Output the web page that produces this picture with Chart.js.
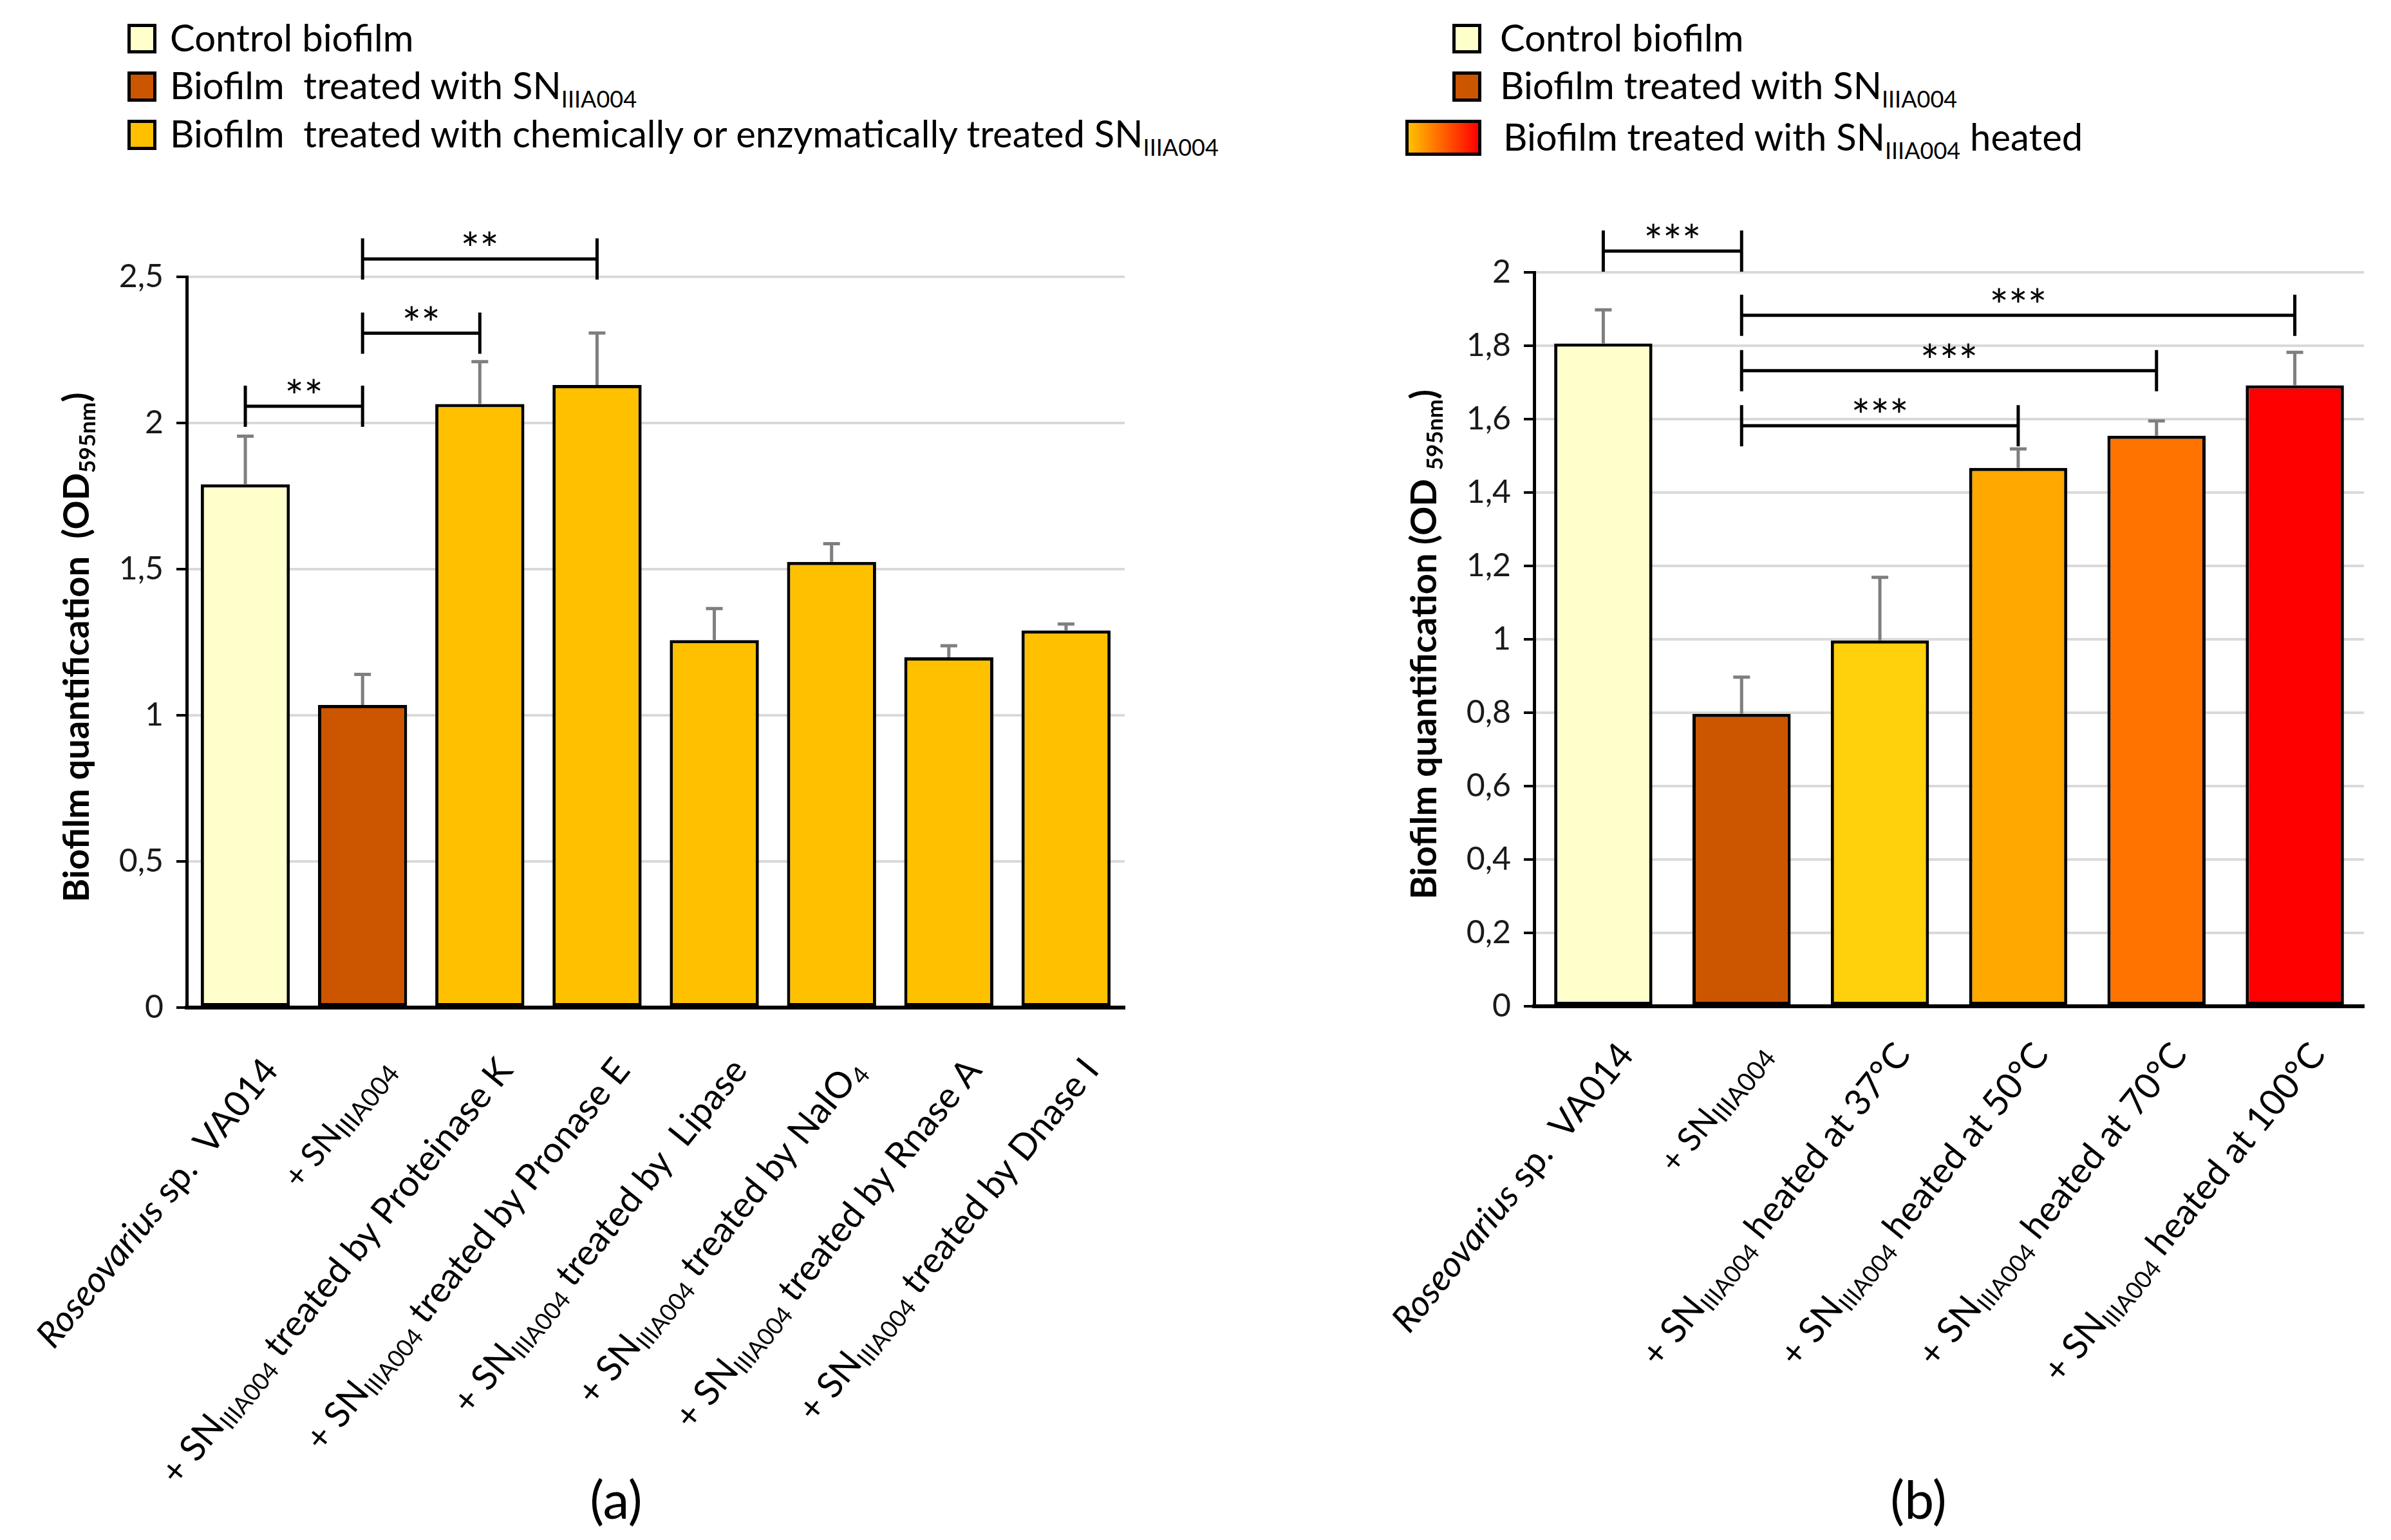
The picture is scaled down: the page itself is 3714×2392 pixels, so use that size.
<!DOCTYPE html>
<html>
<head>
<meta charset="utf-8">
<script src="https://cdn.jsdelivr.net/npm/chart.js@4.4.1/dist/chart.umd.min.js"></script>
<style>
  html, body { margin: 0; padding: 0; background: #fff; }
  body { width: 3714px; height: 2392px; position: relative; overflow: hidden; font-family: Lato, "Open Sans", sans-serif; color: #000; }
  canvas { position: absolute; top: 0; }
  #chartA { left: 0; }
  #chartB { left: 1860px; }
  .box { position: absolute; border: 5px solid #000; box-sizing: border-box; }
  .lg { position: absolute; font-size: 58px; line-height: 58px; white-space: pre; }
  .lg sub { font-size: 36px; vertical-align: -13px; line-height: 0; }
  .panel { position: absolute; font-size: 82px; line-height: 82px; width: 200px; text-align: center; top: 2286px; }
</style>
</head>
<body>

<!-- legend (a) -->
<div class="box" style="left:198px;top:37px;width:45px;height:46px;background:#FFFFCC"></div>
<div class="lg" style="left:264px;top:29px">Control biofilm</div>
<div class="box" style="left:198px;top:111px;width:45px;height:47px;background:#CC5500"></div>
<div class="lg" style="left:264px;top:103px">Biofilm  treated with SN<sub>IIIA004</sub></div>
<div class="box" style="left:198px;top:186px;width:45px;height:47px;background:#FFC000"></div>
<div class="lg" style="left:264px;top:178px">Biofilm  treated with chemically or enzymatically treated SN<sub>IIIA004</sub></div>

<!-- legend (b) -->
<div class="box" style="left:2256px;top:37px;width:45px;height:46px;background:#FFFFCC"></div>
<div class="lg" style="left:2330px;top:29px">Control biofilm</div>
<div class="box" style="left:2256px;top:111px;width:45px;height:47px;background:#CC5500"></div>
<div class="lg" style="left:2330px;top:103px">Biofilm treated with SN<sub>IIIA004</sub></div>
<div class="box" style="left:2183px;top:186px;width:118px;height:56px;background:linear-gradient(to right,#FFC000,#FF0000)"></div>
<div class="lg" style="left:2335px;top:183px">Biofilm treated with SN<sub>IIIA004</sub> heated</div>

<canvas id="chartA" width="1860" height="2392" style="width:1860px;height:2392px"></canvas>
<canvas id="chartB" width="1854" height="2392" style="width:1854px;height:2392px"></canvas>

<div class="panel" style="left:857px">(a)</div>
<div class="panel" style="left:2880px">(b)</div>

<script>
// ---- panel (a) data ----
var labelsA = ['*Roseovarius* sp.  VA014', '+ SN_{IIIA004}', '+ SN_{IIIA004} treated by Proteinase K', '+ SN_{IIIA004} treated by Pronase E',
               '+ SN_{IIIA004} treated by  Lipase', '+ SN_{IIIA004} treated by NaIO_{4}', '+ SN_{IIIA004} treated by Rnase A', '+ SN_{IIIA004} treated by Dnase I'];
var valuesA = [1.79, 1.035, 2.065, 2.13, 1.257, 1.525, 1.198, 1.29];
var errorsA = [0.165, 0.105, 0.145, 0.178, 0.108, 0.062, 0.04, 0.022];
var colorsA = ['#FFFFCC', '#CC5500', '#FFC000', '#FFC000', '#FFC000', '#FFC000', '#FFC000', '#FFC000'];
// [from bar, to bar, height, label]
var bracketsA = [[0, 1, 2.057, '**'], [1, 2, 2.307, '**'], [1, 3, 2.561, '**']];
var yTicksA = { max: 2.5, step: 0.5 };

// ---- panel (b) data ----
var labelsB = ['*Roseovarius* sp.  VA014', '+ SN_{IIIA004}', '+ SN_{IIIA004} heated at 37°C', '+ SN_{IIIA004} heated at 50°C',
               '+ SN_{IIIA004} heated at 70°C', '+ SN_{IIIA004} heated at 100°C'];
var valuesB = [1.806, 0.797, 0.997, 1.467, 1.555, 1.692];
var errorsB = [0.092, 0.1, 0.172, 0.052, 0.04, 0.09];
var colorsB = ['#FFFFCC', '#CC5500', '#FFD10D', '#FFA800', '#FF7300', '#FF0000'];
var bracketsB = [[0, 1, 2.058, '***'], [1, 5, 1.883, '***'], [1, 4, 1.732, '***'], [1, 3, 1.582, '***']];
var yTicksB = { max: 2, step: 0.2 };

var FONT = 'Lato, "Open Sans", sans-serif';

function fmtTick(v) {
    var r = Math.round(v * 10) / 10;
    return String(r).replace('.', ',');
}

function parseRich(s) {
    var segs = [], re = /_\{([^}]*)\}|\*([^*]*)\*|([^_*]+)/g, m;
    while ((m = re.exec(s))) {
        if (m[1] !== undefined) segs.push({ t: m[1], sub: true });
        else if (m[2] !== undefined) segs.push({ t: m[2], it: true });
        else segs.push({ t: m[3] });
    }
    return segs;
}

function drawRich(ctx, str, size, weight, align, subRatio) {
    var segs = parseRich(str), total = 0;
    subRatio = subRatio || 0.62;
    function font(sg) { return (sg.it ? 'italic ' : '') + weight + ' ' + (sg.sub ? Math.round(size * subRatio) : size) + 'px ' + FONT; }
    segs.forEach(function(sg) { ctx.font = font(sg); sg.w = ctx.measureText(sg.t).width; total += sg.w; });
    var x = align === 'right' ? -total : (align === 'center' ? -total / 2 : 0);
    ctx.textAlign = 'left';
    ctx.textBaseline = 'alphabetic';
    segs.forEach(function(sg) {
        ctx.font = font(sg);
        ctx.fillText(sg.t, x, size * 0.36 + (sg.sub ? size * 0.18 : 0));
        x += sg.w;
    });
}

var extrasPlugin = {
    id: 'extras',
    afterDatasetsDraw: function(chart) {
        var o = chart.options.plugins.extras;
        var ctx = chart.ctx, xs = chart.scales.x, ys = chart.scales.y, area = chart.chartArea;
        var meta = chart.getDatasetMeta(0);
        var vals = chart.data.datasets[0].data;
        ctx.save();

        // error bars (upper only)
        ctx.strokeStyle = '#7F7F7F';
        ctx.lineWidth = 5;
        meta.data.forEach(function(bar, i) {
            var x = bar.x, y0 = ys.getPixelForValue(vals[i]), y1 = ys.getPixelForValue(vals[i] + o.errors[i]);
            ctx.beginPath();
            ctx.moveTo(x, y0); ctx.lineTo(x, y1);
            ctx.moveTo(x - 13, y1); ctx.lineTo(x + 13, y1);
            ctx.stroke();
        });

        // significance brackets
        ctx.strokeStyle = '#000';
        ctx.fillStyle = '#000';
        ctx.lineWidth = 5;
        o.brackets.forEach(function(b) {
            var xa = xs.getPixelForValue(b[0]), xb = xs.getPixelForValue(b[1]), y = ys.getPixelForValue(b[2]);
            ctx.beginPath();
            ctx.moveTo(xa, y); ctx.lineTo(xb, y);
            ctx.moveTo(xa, y - 32); ctx.lineTo(xa, y + 32);
            ctx.moveTo(xb, y - 32); ctx.lineTo(xb, y + 32);
            ctx.stroke();
            ctx.font = '70px ' + FONT;
            ctx.textAlign = 'center';
            ctx.textBaseline = 'alphabetic';
            ctx.fillText(b[3], (xa + xb) / 2, y + 10);
        });

        // category labels, rotated
        ctx.fillStyle = '#000';
        var ang = -51 * Math.PI / 180;
        o.labels.forEach(function(lab, i) {
            var small = o.small.indexOf(i) >= 0;
            ctx.save();
            ctx.translate(xs.getPixelForValue(i) + o.labelDx, area.bottom + o.labelDy);
            ctx.rotate(ang);
            drawRich(ctx, lab, small ? 51 : 56, 'normal', 'right', small ? 0.78 : 0.66);
            ctx.restore();
        });

        // y axis title
        ctx.save();
        ctx.translate(area.left - 172, (area.top + area.bottom) / 2 + 8);
        ctx.rotate(-Math.PI / 2);
        drawRich(ctx, o.title, 56, 'bold', 'center');
        ctx.restore();

        ctx.restore();
    }
};

function makeChart(id, labels, values, errors, colors, brackets, yt, title, layout) {
    return new Chart(document.getElementById(id), {
        type: 'bar',
        data: {
            labels: labels,
            datasets: [{ data: values, backgroundColor: colors, borderColor: '#000', borderWidth: 5, borderSkipped: false,
                         barPercentage: layout.barPct, categoryPercentage: 1 }]
        },
        options: {
            responsive: false, animation: false, devicePixelRatio: 1,
            layout: { padding: layout.padding },
            plugins: {
                legend: { display: false }, tooltip: { enabled: false },
                extras: { errors: errors, brackets: brackets, labels: labels, title: title, small: [1],
                          labelDx: layout.labelDx, labelDy: layout.labelDy }
            },
            scales: {
                x: { ticks: { display: false }, grid: { display: false }, border: { color: '#000', width: 6 },
                     afterFit: function(s) { s.height = 0; } },
                y: { min: 0, max: yt.max,
                     ticks: { stepSize: yt.step, color: '#1a1a1a', padding: 20, font: { family: FONT, size: 50 }, callback: fmtTick },
                     grid: { color: '#D9D9D9', lineWidth: 4, tickColor: '#000', tickLength: 16, tickWidth: 4 },
                     border: { color: '#000', width: 5 },
                     afterFit: function(s) { s.width = layout.yWidth; } }
            }
        },
        plugins: [extrasPlugin]
    });
}

makeChart('chartA', labelsA, valuesA, errorsA, colorsA, bracketsA, yTicksA,
          'Biofilm quantification  (OD_{595nm})',
          { padding: { top: 430, bottom: 827, left: 0, right: 113 }, yWidth: 290, barPct: 0.76, labelDx: 38, labelDy: 86 });
makeChart('chartB', labelsB, valuesB, errorsB, colorsB, bracketsB, yTicksB,
          'Biofilm quantification (OD _{595nm})',
          { padding: { top: 423, bottom: 829, left: 0, right: 42 }, yWidth: 523, barPct: 0.71, labelDx: 34, labelDy: 64 });
</script>
</body>
</html>
